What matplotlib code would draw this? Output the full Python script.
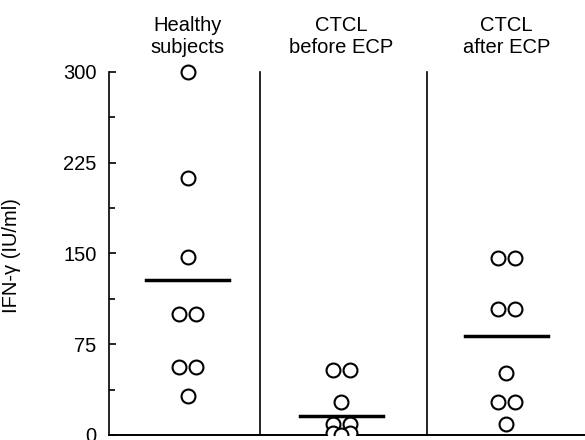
import matplotlib.pyplot as plt
import matplotlib.ticker as mticker
import matplotlib.transforms as mtransforms

plt.rcParams['font.family'] = ['Liberation Sans', 'DejaVu Sans']

# Data (IFN-gamma, IU/ml)
groups = ["Healthy\nsubjects", "CTCL\nbefore ECP", "CTCL\nafter ECP"]
healthy = [300, 212, 147, 100, 100, 56, 56, 32]
healthy_side = [0, 0, 0, -1, 1, -1, 1, 0]
before = [54, 54, 27, 9, 9, 2, 2, 0]
before_side = [-1, 1, 0, -1, 1, -1, 1, 0]
after = [146, 146, 104, 104, 51, 27, 27, 9]
after_side = [-1, 1, -1, 1, 0, -1, 1, 0]
means = [128, 16, 82]

# layout (x in arbitrary units)
group_x = [0.49, 1.45, 2.48]
dividers = [0.94, 1.985]
pair_dx = 0.055
half_w = 0.26

fig = plt.figure(figsize=(5.85, 4.4), dpi=100)
ax = fig.add_axes([0.1863, 0.0114, 0.8137, 0.858])

values = [healthy, before, after]
sides = [healthy_side, before_side, after_side]
for gx, vals, sd in zip(group_x, values, sides):
    xs = [gx + s * pair_dx for s in sd]
    ax.plot(xs, vals, 'o', ms=10, mfc='white', mec='black', mew=1.5,
            ls='none', zorder=3)

for gx, m in zip(group_x, means):
    ax.plot([gx - half_w, gx + half_w], [m, m], color='black', lw=2.5, zorder=4)

for d in dividers:
    ax.plot([d, d], [0, 300], color='black', lw=1.2)

ax.set_xlim(0, 2.97)
ax.set_ylim(0, 312)
ax.spines['top'].set_visible(False)
ax.spines['right'].set_visible(False)
ax.spines['left'].set_bounds(0, 300)
ax.spines['left'].set_linewidth(1.2)
ax.spines['bottom'].set_linewidth(1.4)
ax.set_xticks([])
ax.set_yticks([0, 75, 150, 225, 300])
ax.yaxis.set_minor_locator(mticker.MultipleLocator(37.5))
ax.tick_params(axis='y', which='major', direction='in', length=5, width=1.2,
               labelsize=14.5, pad=9)
ax.tick_params(axis='y', which='minor', direction='in', length=4, width=1.2)
ax.set_ylabel("IFN-\u03b3 (IU/ml)", fontsize=14.5)
ax.yaxis.set_label_coords(-0.185, 0.474)

trans = mtransforms.blended_transform_factory(ax.transData, fig.transFigure)
for gx, g in zip(group_x, groups):
    ax.text(gx, 0.918, g, transform=trans, ha='center', va='center',
            fontsize=14.5)

fig.savefig("out.png", dpi=100)
